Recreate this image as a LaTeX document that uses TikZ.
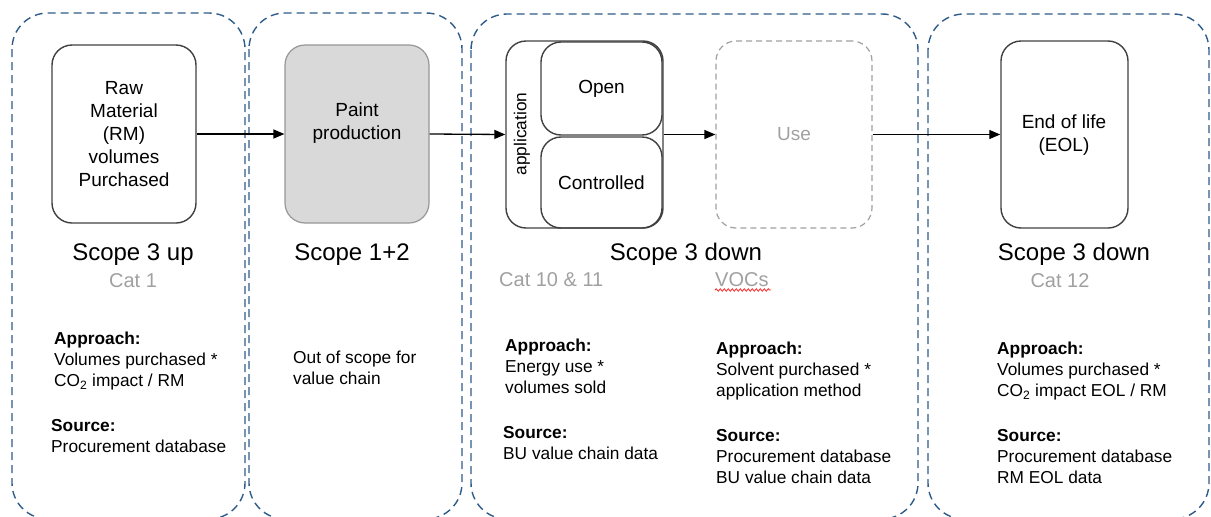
\documentclass[tikz,border=0pt]{standalone}
\usepackage{fontspec}
\setmainfont{Liberation Sans}
\usetikzlibrary{arrows.meta,decorations.pathmorphing}
\definecolor{frameblue}{RGB}{46,92,138}
\definecolor{boxline}{RGB}{64,64,64}
\definecolor{lightgraytxt}{RGB}{160,160,160}
\definecolor{paintfill}{RGB}{217,217,217}
\definecolor{paintline}{RGB}{150,150,150}
\tikzset{
  frame/.style={draw=frameblue, line width=1.4pt, dash pattern=on 8pt off 5pt, rounded corners=36pt},
  stepbox/.style={draw=boxline, line width=1.4pt, rounded corners=20pt},
  flow/.style={draw=black, line width=1.3pt, -{Triangle[length=11pt,width=9pt]}},
  boxtxt/.style={font=\fontsize{19}{23}\selectfont, align=center, inner sep=0pt},
  headtxt/.style={font=\fontsize{24}{28}\selectfont, anchor=base, inner sep=0pt},
  cattxt/.style={font=\fontsize{20}{24}\selectfont, text=lightgraytxt, anchor=base, inner sep=0pt},
  bodytxt/.style={font=\fontsize{17.3}{21}\selectfont, align=left, anchor=north west, inner sep=0pt},
}
\begin{document}
\begin{tikzpicture}[x=1pt,y=-1pt]
\useasboundingbox (0,0) rectangle (1211,517);
% containers
\draw[frame] (12,13) rectangle (245,519);
\draw[frame] (249,13) rectangle (462,519);
\draw[frame] (471,14) rectangle (918,519);
\draw[frame] (928,14) rectangle (1209,519);
% step boxes
\node[stepbox, minimum width=144pt, minimum height=178pt] (rm) at (124,134) {};
\node[boxtxt] (rmtxt) at (124,134) {Raw\\Material\\(RM)\\volumes\\Purchased};
\node[draw=paintline, fill=paintfill, line width=1.2pt, rounded corners=20pt, minimum width=144pt, minimum height=178pt] (paint) at (357,134) {};
\node[boxtxt] (painttxt) at (357,123) {Paint\\production};
% application composite
\node[stepbox, minimum width=157pt, minimum height=187pt] (app) at (584.5,134.5) {};
\node[stepbox, minimum width=121pt, minimum height=93pt] (open) at (601.5,88.5) {};
\node[boxtxt] at (open.center) {Open};
\node[stepbox, minimum width=121pt, minimum height=91pt] (ctrl) at (601.5,182.5) {};
\node[boxtxt] at (ctrl.center) {Controlled};
\node[font=\fontsize{17.3}{20}\selectfont, rotate=90, inner sep=0pt] (apptxt) at (522,134) {application};
% use
\node[draw=lightgraytxt, line width=1.2pt, dash pattern=on 6pt off 4pt, rounded corners=20pt, minimum width=156pt, minimum height=187pt] (use) at (794,134.5) {};
\node[boxtxt, text=lightgraytxt] at (use.center) {Use};
% EOL
\node[stepbox, minimum width=127pt, minimum height=187pt] (eol) at (1064.5,134.5) {};
\node[boxtxt] at (1064,135) {End of life\\(EOL)};
% arrows
\draw[flow] (rm.east) -- (paint.west);
\draw[flow] (paint.east) -- (app.west);
\draw[flow] (app.east) -- (use.west);
\draw[flow] (use.east) -- (eol.west);
% headings
\node[headtxt] (h1) at (133,260) {Scope 3 up};
\node[cattxt] (c1) at (133,287) {Cat 1};
\node[headtxt] (h2) at (352,260) {Scope 1+2};
\node[headtxt] (h3) at (686,260) {Scope 3 down};
\node[cattxt, anchor=base west] (c3) at (499,286) {Cat 10 \& 11};
\node[cattxt, anchor=base west] (c3b) at (715,286) {VOCs};
\draw[red!85!white, line width=0.8pt, decorate, decoration={snake, segment length=4pt, amplitude=1.2pt}] (c3b.base west) ++(0,4) -- ++(56,0);
\node[headtxt] (h4) at (1074,260) {Scope 3 down};
\node[cattxt] (c4) at (1060,287) {Cat 12};
% body texts
\node[bodytxt] (a1) at (54,332) {\textbf{Approach:}\\Volumes purchased *\\CO\textsubscript{2} impact / RM};
\node[bodytxt] (s1) at (51,419) {\textbf{Source:}\\Procurement database};
\node[bodytxt] (a2) at (293,351) {Out of scope for\\value chain};
\node[bodytxt] (a3) at (505,339) {\textbf{Approach:}\\Energy use *\\volumes sold};
\node[bodytxt] (s3) at (503,426) {\textbf{Source:}\\BU value chain data};
\node[bodytxt] (a3b) at (716,342) {\textbf{Approach:}\\Solvent purchased *\\application method};
\node[bodytxt] (s3b) at (716,429) {\textbf{Source:}\\Procurement database\\BU value chain data};
\node[bodytxt] (a4) at (997,342) {\textbf{Approach:}\\Volumes purchased *\\CO\textsubscript{2} impact EOL / RM};
\node[bodytxt] (s4) at (997,429) {\textbf{Source:}\\Procurement database\\RM EOL data};
\end{tikzpicture}
\end{document}
